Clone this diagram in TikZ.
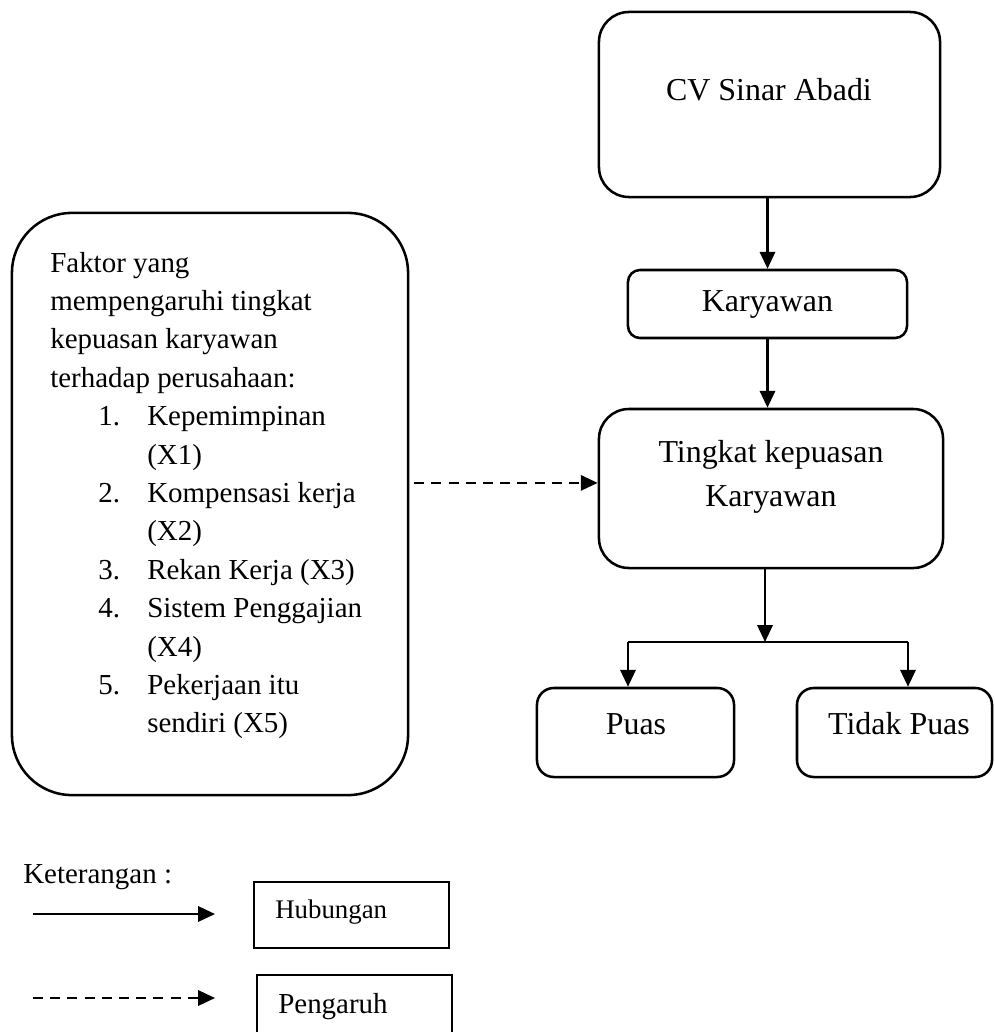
\documentclass[tikz,border=0pt]{standalone}
\usepackage{fontspec}
\setmainfont{Liberation Serif}
\usetikzlibrary{arrows.meta}

\newcommand{\bigtxt}{\fontsize{22.7}{31.3}\selectfont}
\newcommand{\midtxt}{\fontsize{20.6}{27}\selectfont}
\newcommand{\smalltxt}{\fontsize{19.1}{24}\selectfont}

\tikzset{
	rbox/.style={draw, line width=1.8pt, inner sep=0pt},
	lbox/.style={draw, line width=1.4pt, inner sep=0pt},
	txt/.style={inner sep=0pt},
	arr/.style={line width=1.7pt, -{Triangle[length=0.42cm,width=0.38cm]}},
	darr/.style={arr, dash pattern=on 0.25cm off 0.18cm},
}

\begin{document}
\begin{tikzpicture}[x=0.025cm, y=-0.025cm]
	\useasboundingbox (0,0) rectangle (994,1032);
	\clip (0,0) rectangle (994,1032);

	% right column
	\node[rbox, rounded corners=0.75cm, minimum width=8.525cm, minimum height=4.625cm] (cv) at (769.5,104.5) {};
	\node[txt, anchor=base, font=\bigtxt] (cvt) at (769,100) {CV Sinar Abadi};
	\node[rbox, rounded corners=0.3cm, minimum width=6.975cm, minimum height=1.7cm, font=\bigtxt] (kar) at (767.5,304) {Karyawan};
	\node[rbox, rounded corners=0.75cm, minimum width=8.6cm, minimum height=3.975cm] (tk) at (771,488.5) {};
	\node[txt, align=center, font=\bigtxt] (tkt) at (771,477) {Tingkat kepuasan\\Karyawan};
	\node[rbox, rounded corners=0.42cm, minimum width=4.925cm, minimum height=2.225cm] (puas) at (635.5,732.5) {};
	\node[txt, anchor=base, font=\bigtxt] (puast) at (636,734) {Puas};
	\node[rbox, rounded corners=0.42cm, minimum width=4.875cm, minimum height=2.225cm] (tidak) at (894.5,732.5) {};
	\node[txt, anchor=base, font=\bigtxt] (tidakt) at (899,734) {Tidak Puas};

	\draw[arr] (cv.south -| kar) -- (kar.north);
	\draw[arr] (kar.south) -- (kar.south |- tk.north);
	\coordinate (split) at (765,642);
	\coordinate (sl) at (628,642);
	\coordinate (sr) at (908,642);
	\draw[arr] (tk.south -| split) -- (split);
	\draw[line width=1.7pt] (sl) -- (sr);
	\draw[arr] (sl) -- (sl |- puas.north);
	\draw[arr] (sr) -- (sr |- tidak.north);

	% left box
	\node[rbox, rounded corners=1.5cm, minimum width=9.9cm, minimum height=14.55cm] (fb) at (210,504) {};
	\node[txt, anchor=base west, font=\midtxt] (f1) at (50,272) {Faktor yang};
	\node[txt, anchor=base west, font=\midtxt] (f2) at (50,310.4) {mempengaruhi tingkat};
	\node[txt, anchor=base west, font=\midtxt] (f3) at (50,348.8) {kepuasan karyawan};
	\node[txt, anchor=base west, font=\midtxt] (f4) at (50,387.2) {terhadap perusahaan:};
	\node[txt, anchor=base west, font=\midtxt] (n1) at (98,425.6) {1.};
	\node[txt, anchor=base west, font=\midtxt] (i1) at (147,425.6) {Kepemimpinan};
	\node[txt, anchor=base west, font=\midtxt] (i1b) at (147,464) {(X1)};
	\node[txt, anchor=base west, font=\midtxt] (n2) at (98,502.4) {2.};
	\node[txt, anchor=base west, font=\midtxt] (i2) at (147,502.4) {Kompensasi kerja};
	\node[txt, anchor=base west, font=\midtxt] (i2b) at (147,540.8) {(X2)};
	\node[txt, anchor=base west, font=\midtxt] (n3) at (98,579.2) {3.};
	\node[txt, anchor=base west, font=\midtxt] (i3) at (147,579.2) {Rekan Kerja (X3)};
	\node[txt, anchor=base west, font=\midtxt] (n4) at (98,617.6) {4.};
	\node[txt, anchor=base west, font=\midtxt] (i4) at (147,617.6) {Sistem Penggajian};
	\node[txt, anchor=base west, font=\midtxt] (i4b) at (147,656) {(X4)};
	\node[txt, anchor=base west, font=\midtxt] (n5) at (98,694.4) {5.};
	\node[txt, anchor=base west, font=\midtxt] (i5) at (147,694.4) {Pekerjaan itu};
	\node[txt, anchor=base west, font=\midtxt] (i5b) at (147,732.8) {sendiri (X5)};

	\coordinate (dend) at ([yshift=0.14cm]tk.west);
	\draw[darr, shorten <=0.12cm] (fb.east |- dend) -- (dend);

	% legend
	\node[txt, anchor=base west, font=\midtxt] (ket) at (23,883) {Keterangan :};
	\coordinate (h1) at (33,914);
	\coordinate (h2) at (215,914);
	\draw[arr] (h1) -- (h2);
	\node[lbox, minimum width=4.875cm, minimum height=1.65cm] (hub) at (351.5,915) {};
	\node[txt, anchor=base west, font=\smalltxt] (hubt) at (275,918) {Hubungan};
	\coordinate (p1) at (33,998);
	\coordinate (p2) at (215,998);
	\draw[darr] (p1) -- (p2);
	\node[lbox, minimum width=4.875cm, minimum height=2cm] (pen) at (354.5,1015) {};
	\node[txt, anchor=base west, font=\midtxt] (pent) at (278,1013) {Pengaruh};
\end{tikzpicture}
\end{document}
